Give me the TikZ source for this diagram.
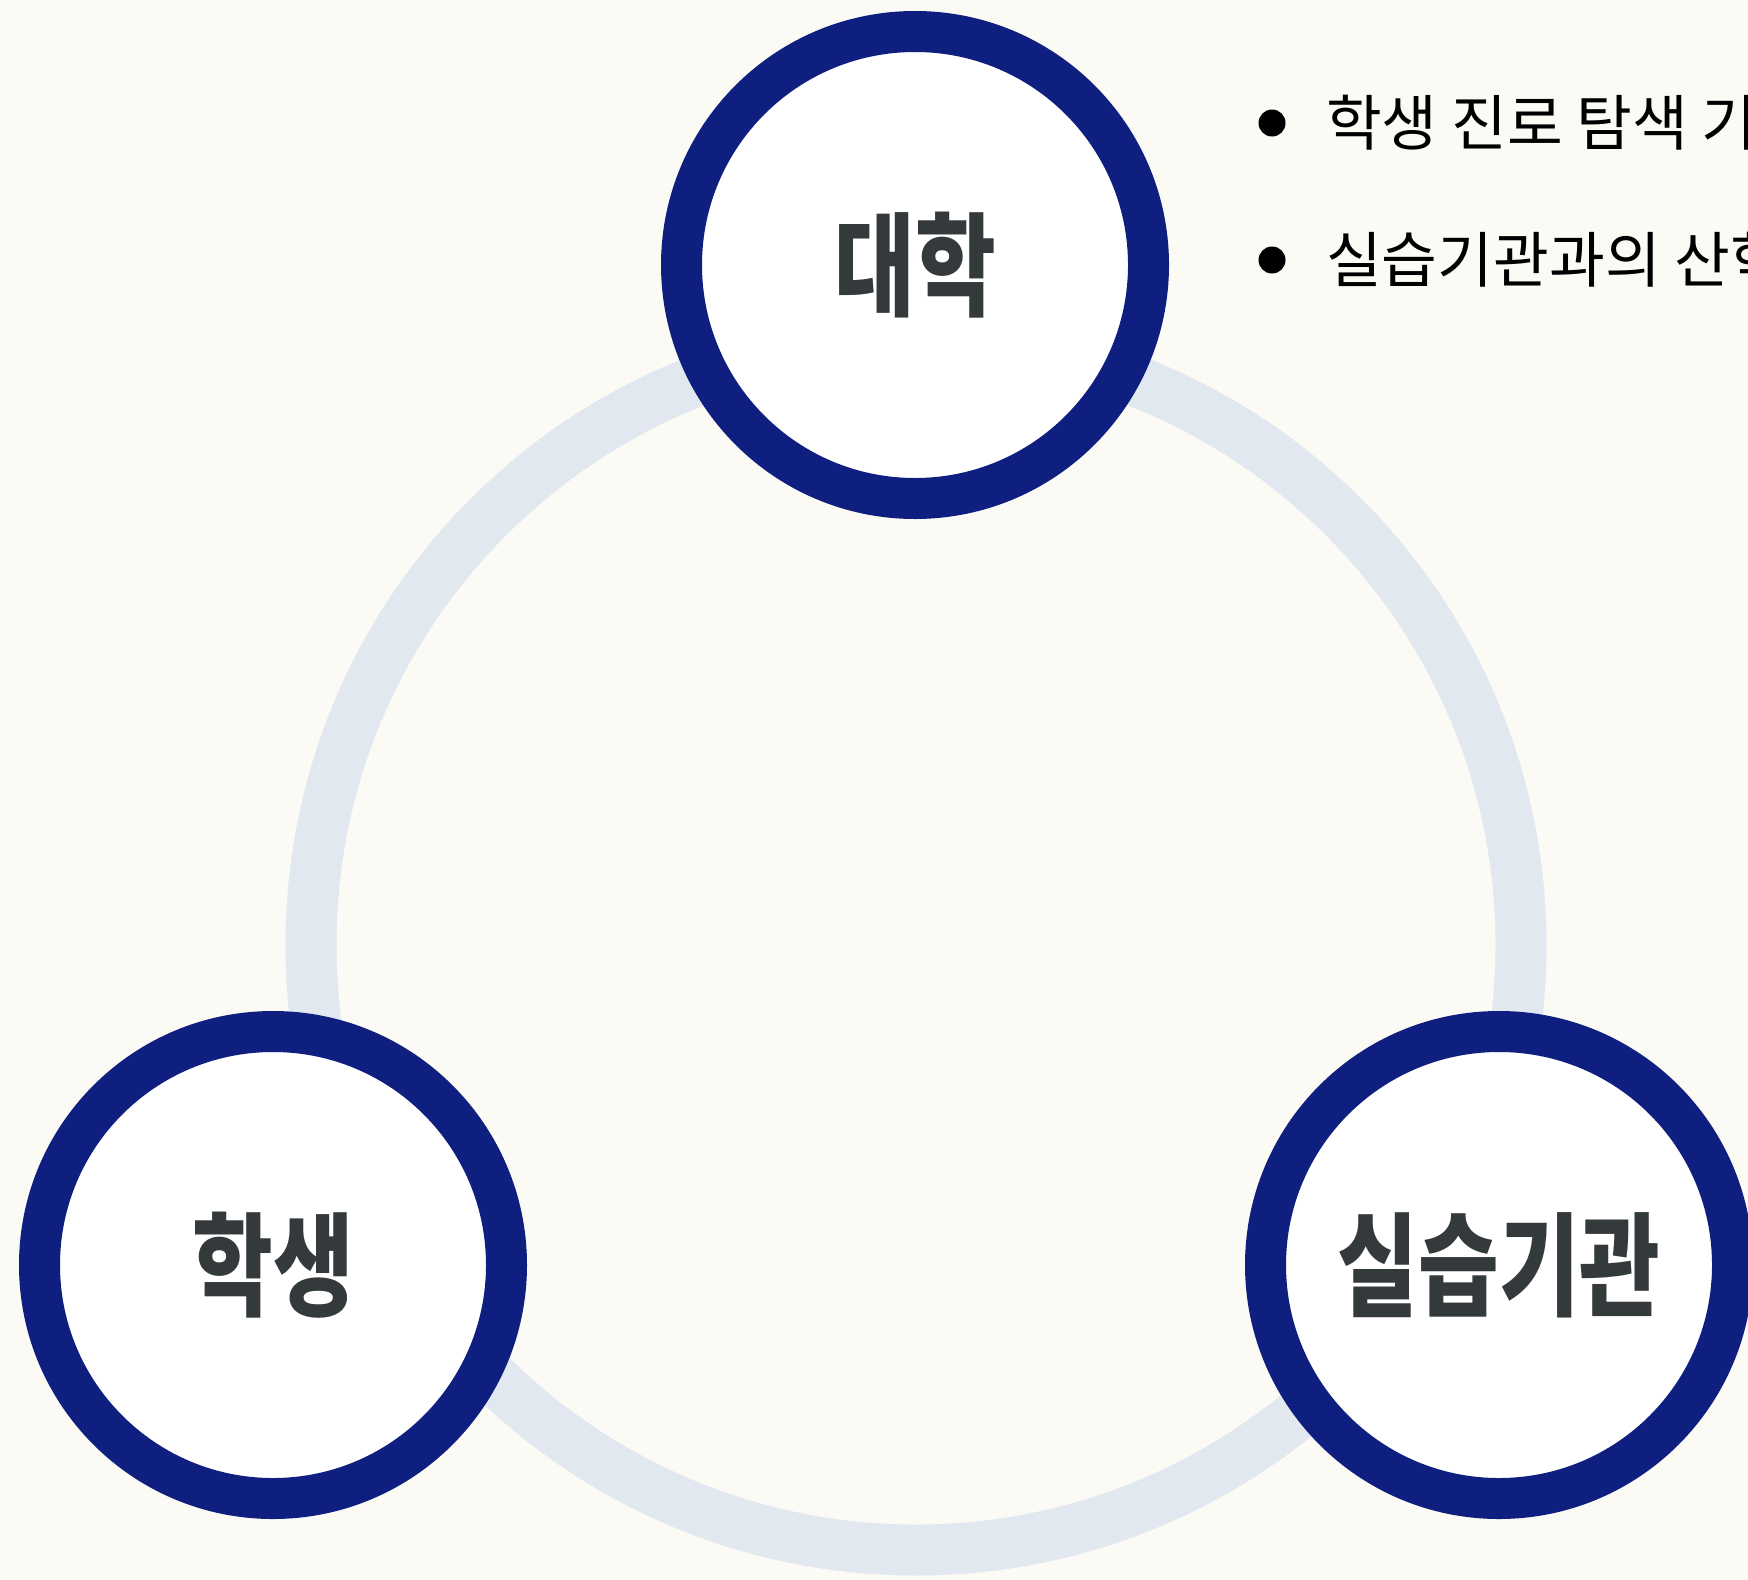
\documentclass[tikz,border=0pt]{standalone}
\usepackage{fontspec}
\usepackage{graphicx}
\newfontfamily\cjk{Noto Sans CJK KR}
\newfontfamily\cjkheavy{Noto Sans CJK KR Black}
\usetikzlibrary{positioning}
\definecolor{bgcream}{HTML}{FBFAF5}
\definecolor{ringgray}{HTML}{E2E8F0}
\definecolor{deepnavy}{HTML}{0F1F80}
\definecolor{labelgray}{HTML}{343A3C}
\newcommand{\narrow}[1]{\scalebox{0.78}[1]{#1}}

\begin{document}
\begin{tikzpicture}[
        party/.style={draw=deepnavy,fill=white,circle,line width=0.82cm,
            minimum size=9.34cm,inner sep=0pt,text=labelgray,
            font=\cjkheavy\fontsize{64}{66}\selectfont},
        dot/.style={fill=black,circle,minimum size=0.54cm,inner sep=0pt},
        point/.style={anchor=west,font=\cjk\fontsize{34.5}{40}\selectfont,inner sep=0pt},
        node distance=2.74cm,on grid]
    \clip (0,0) rectangle (34.96,-31.58);
    \fill[bgcream] (0,0) rectangle (34.96,-31.58);
    % the ring behind the three parties
    \coordinate (hub) at (18.32,-18.90);
    \draw[ringgray,line width=1.02cm] (hub) circle (12.10cm);
    \node[party] (univ)    at (18.30,-5.30)  {\narrow{대학}};
    \node[party] (student) at (5.46,-25.30)  {\narrow{학생}};
    \node[party] (agency)  at (29.98,-25.30) {\narrow{실습기관}};
    % notes on the right
    \node[dot] (dot1) at (25.44,-2.46) {};
    \node[dot] (dot2) [below=of dot1] {};
    \node[point] (note1) at (dot1.east) [xshift=0.8cm] {학생 진로 탐색 기회 제공};
    \node[point] (note2) at (dot2.east) [xshift=0.8cm] {실습기관과의 산학 협력 강화};
\end{tikzpicture}
\end{document}
